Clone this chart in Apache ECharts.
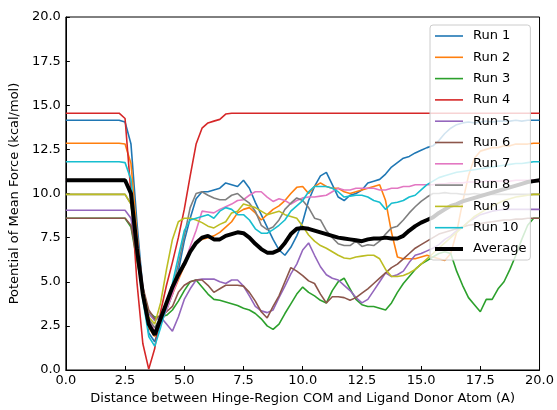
<!DOCTYPE html>
<html><head><meta charset="utf-8">
<script src="https://cdn.jsdelivr.net/npm/echarts@6/dist/echarts.min.js"></script>
<style>html,body{margin:0;padding:0;background:#fff}#c{width:557px;height:410px}</style>
</head><body><div id="c"></div>
<script>
const xs = [0,1,2,2.25,2.5,2.75,3,3.25,3.5,3.75,4,4.25,4.5,4.75,5,5.25,5.5,5.75,6,6.25,6.5,6.75,7,7.25,7.5,7.75,8,8.25,8.5,8.75,9,9.25,9.5,9.75,10,10.25,10.5,10.75,11,11.25,11.5,11.75,12,12.25,12.5,12.75,13,13.25,13.5,13.75,14,14.25,14.5,14.75,15,15.25,15.5,15.75,16,16.25,16.5,16.75,17,17.25,17.5,17.75,18,18.25,18.5,18.75,19,19.25,19.5,19.75,20];

const run1 = [14.15,14.15,14.15,14.15,
14.05,12.8,8.4,4.6,2.1,1.6,
2.6,3.4,4.3,5.6,
7.3,8.6,9.7,10.1,
10.1,10.2,10.3,10.6,
10.5,10.4,10.75,10.3,
9.5,8.8,8.1,7.4,
6.8,6.5,6.95,7.6,
8.4,9.6,10.4,11.0,
11.2,10.5,9.8,9.6,
9.9,10.0,10.2,10.6,
10.7,10.8,11.1,11.5,
11.75,12.0,12.1,12.3,
12.45,12.6,12.7,13.0,
13.4,13.7,13.9,14.0,
14.05,14.0,14.05,14.1,
14.05,14.1,14.1,14.1,
14.15,14.1,14.15,14.15,
14.15];

const run2 = [12.85,12.85,12.85,12.85,
12.8,11.7,7.8,4.5,2.4,1.9,
2.7,3.5,4.3,5.1,
5.9,6.7,7.2,7.4,
7.5,7.6,7.8,8.1,
8.4,8.9,9.1,9.2,
8.9,8.5,8.8,9.1,
9.3,9.6,10.0,10.35,
10.4,10.0,10.4,10.6,
10.4,10.3,10.3,10.1,
10.0,10.1,10.2,10.3,
10.4,10.5,9.6,7.8,
6.4,6.3,6.3,6.3,
6.4,6.5,6.4,6.3,
6.2,6.6,7.8,9.5,
11.0,12.0,12.4,12.5,
12.6,12.6,12.7,12.7,
12.8,12.8,12.8,12.85,
12.85];

const run3 = [8.6,8.6,8.6,8.6,
8.6,8.1,6.2,4.5,3.3,3.0,
3.0,3.1,3.4,3.9,
4.5,5.0,5.1,4.7,
4.3,4.0,3.95,3.85,
3.75,3.65,3.5,3.4,
3.2,2.9,2.5,2.3,
2.6,3.2,3.75,4.3,
4.7,4.4,4.2,3.95,
3.8,4.5,5.0,5.2,
4.6,4.0,3.7,3.6,
3.6,3.5,3.4,3.8,
4.4,4.9,5.3,5.7,
6.0,6.2,6.4,6.6,
6.7,6.6,5.6,4.8,
4.1,3.7,3.3,4.0,
4.0,4.6,5.0,5.7,
6.5,7.4,8.2,8.6,
8.6];

const run4 = [14.55,14.55,14.55,14.55,
14.25,10.0,5.0,1.5,0.05,1.2,
3.3,4.8,6.1,7.5,
9.1,11.0,12.8,13.7,
14.0,14.1,14.2,14.5,
14.55,14.55,14.55,14.55,
14.55,14.55,14.55,14.55,
14.55,14.55,14.55,14.55,
14.55,14.55,14.55,14.55,
14.55,14.55,14.55,14.55,
14.55,14.55,14.55,14.55,
14.55,14.55,14.55,14.55,
14.55,14.55,14.55,14.55,
14.55,14.55,14.55,14.55,
14.55,14.55,14.55,14.55,
14.55,14.55,14.55,14.55,
14.55,14.55,14.55,14.55,
14.55,14.55,14.55,14.55,
14.55];

const run5 = [9.05,9.05,9.05,9.05,
9.05,8.6,6.6,4.6,3.2,2.8,
3.0,2.6,2.2,3.0,
4.0,4.6,5.1,5.15,
5.15,5.15,5.0,4.9,
5.1,5.1,4.75,4.2,
3.6,3.35,3.25,3.4,
4.1,4.75,5.45,6.0,
6.8,7.2,6.5,5.85,
5.4,5.2,5.1,4.8,
4.5,4.1,3.8,4.0,
4.5,5.0,5.5,5.3,
5.4,5.6,6.1,6.5,
6.6,6.75,6.9,7.1,
7.4,7.6,7.9,8.1,
8.4,8.6,8.8,8.9,
9.0,9.05,9.1,9.1,
9.1,9.1,9.1,9.1,
9.1];

const run6 = [8.6,8.6,8.6,8.6,
8.6,8.2,6.4,4.7,3.4,2.9,
3.1,3.3,3.6,4.4,
4.8,5.0,5.1,5.1,
4.8,4.4,4.6,4.8,
4.8,4.8,4.75,4.4,
3.9,3.3,2.95,3.6,
4.2,5.0,5.8,5.6,
5.35,5.05,4.9,4.3,
3.8,4.15,4.15,4.1,
3.95,4.1,4.35,4.6,
4.9,5.2,5.5,5.8,
6.0,6.3,6.6,6.9,
7.1,7.3,7.5,7.7,
7.8,7.9,8.0,8.1,
8.2,8.25,8.3,8.35,
8.4,8.45,8.5,8.5,
8.55,8.55,8.6,8.6,
8.6];

const run7 = [10.75,10.75,10.75,10.75,
10.7,10.0,7.4,4.7,2.9,2.2,
2.6,3.4,4.3,5.2,
6.0,7.0,7.9,9.0,
8.95,8.9,9.1,9.25,
9.4,9.6,9.65,9.9,
10.1,10.1,9.8,9.55,
9.7,9.6,9.4,9.6,
9.75,9.8,9.8,9.85,
9.9,10.1,10.3,10.2,
10.2,10.3,10.3,10.3,
10.3,10.2,10.2,10.3,
10.3,10.4,10.4,10.5,
10.5,10.5,10.5,10.55,
10.55,10.6,10.6,10.6,
10.65,10.65,10.65,10.7,
10.7,10.7,10.7,10.7,
10.75,10.75,10.75,10.75,
10.75];

const run8 = [9.95,9.95,9.95,9.95,
9.95,9.4,6.9,4.5,2.9,2.4,
3.0,3.8,4.6,6.0,
7.6,9.2,10.0,10.1,
9.9,9.75,9.65,9.65,
9.9,10.0,9.7,9.45,
9.0,8.2,7.95,8.1,
8.5,9.1,9.45,9.75,
9.6,9.2,8.6,8.5,
7.9,7.5,7.15,7.05,
7.05,7.3,7.0,7.1,
7.05,7.3,7.7,8.05,
8.15,8.5,8.9,9.25,
9.55,9.8,10.0,10.0,
10.05,10.0,10.0,9.95,
9.95,10.0,9.95,9.95,
9.95,9.95,9.95,9.95,
9.95,9.95,9.95,9.95,
9.95];

const run9 = [9.95,9.95,9.95,9.95,
9.95,9.4,7.0,4.6,3.0,2.6,
3.8,5.7,7.4,8.4,
8.6,8.6,8.5,8.35,
8.15,8.05,8.25,8.4,
8.9,9.0,9.4,9.3,
9.2,9.0,8.8,8.9,
9.0,8.8,8.7,8.6,
8.15,7.65,7.3,7.05,
6.9,6.7,6.5,6.35,
6.3,6.4,6.45,6.5,
6.5,6.3,5.7,5.3,
5.3,5.35,5.5,5.7,
6.0,6.3,6.6,6.9,
7.2,7.5,7.8,8.1,
8.4,8.7,8.9,9.1,
9.3,9.45,9.6,9.7,
9.8,9.85,9.9,9.95,
9.95];

const run10 = [11.8,11.8,11.8,11.8,
11.75,10.8,7.2,4.0,1.9,1.35,
2.4,3.6,4.9,6.4,
7.9,8.5,8.6,8.7,
8.8,8.6,9.0,9.2,
9.1,8.8,8.8,8.5,
8.0,7.75,7.75,7.95,
8.2,8.5,9.0,9.3,
9.6,10.1,10.4,10.4,
10.4,10.3,10.1,9.8,
9.85,9.9,9.9,9.8,
9.6,9.5,9.1,9.45,
9.5,9.6,9.8,9.9,
10.2,10.5,10.7,10.9,
11.0,11.1,11.2,11.25,
11.3,11.35,11.4,11.45,
11.5,11.55,11.6,11.65,
11.7,11.7,11.75,11.8,
11.8];

const average = [10.75,10.75,10.75,10.75,
10.75,10.0,6.9,4.3,2.6,2.0,
2.9,3.8,4.7,5.4,
6.0,6.7,7.2,7.5,
7.6,7.4,7.4,7.6,
7.7,7.8,7.75,7.5,
7.15,6.85,6.65,6.65,
6.8,7.2,7.7,8.0,
8.05,8.0,7.9,7.8,
7.7,7.6,7.5,7.45,
7.4,7.35,7.3,7.4,
7.45,7.45,7.5,7.45,
7.45,7.6,7.9,8.15,
8.35,8.5,8.65,8.9,
9.1,9.3,9.4,9.55,
9.65,9.75,9.85,9.95,
10.05,10.15,10.25,10.35,
10.45,10.55,10.65,10.7,
10.75];

const names = ['Run 1','Run 2','Run 3','Run 4','Run 5','Run 6','Run 7','Run 8','Run 9','Run 10','Average'];
const colors = ['#1f77b4','#ff7f0e','#2ca02c','#d62728','#9467bd','#8c564b','#e377c2','#7f7f7f','#bcbd22','#17becf','#000000'];
const allData = [run1,run2,run3,run4,run5,run6,run7,run8,run9,run10,average];
const xTicks = ['0.0','2.5','5.0','7.5','10.0','12.5','15.0','17.5','20.0'];
const yTicks = ['0.0','2.5','5.0','7.5','10.0','12.5','15.0','17.5','20.0'];

const FONT = 'DejaVu Sans';
const thinIcon = 'path://M0,0M0,6.2L28,6.2L28,7.8L0,7.8ZM28,14';
const thickIcon = 'path://M0,0M0,5L28,5L28,9L0,9ZM28,14';

const chart = echarts.init(document.getElementById('c'), null, {renderer:'canvas'});
const series = allData.map((arr, i) => ({
  name: names[i],
  type: 'line',
  data: xs.map((x, j) => [x, arr[j]]),
  symbol: 'none',
  showSymbol: false,
  smooth: false,
  z: i === 10 ? 5 : 2,
  color: colors[i],
  lineStyle: {width: i === 10 ? 4 : 1.6, color: colors[i]}
}));

chart.setOption({
  animation: false,
  backgroundColor: '#fff',
  grid: {left: 63, right: 17, top: 17, bottom: 36, show: true, borderColor: '#000', borderWidth: 1},
  xAxis: {
    type: 'value', min: 0, max: 20, interval: 2.5,
    axisLine: {show: true, onZero: false, lineStyle: {color: '#000', width: 1}},
    axisTick: {show: true, inside: true, length: 4, lineStyle: {color: '#000'}},
    splitLine: {show: false},
    axisLabel: {color: '#000', fontSize: 13, fontFamily: FONT, margin: 4,
      formatter: v => xTicks[Math.round(v / 2.5)]},
    name: 'Distance between Hinge-Region COM and Ligand Donor Atom (A)',
    nameLocation: 'middle', nameGap: 22,
    nameTextStyle: {color: '#000', fontSize: 13, fontFamily: FONT}
  },
  yAxis: {
    type: 'value', min: 0, max: 20, interval: 2.5,
    axisLine: {show: true, onZero: false, lineStyle: {color: '#000', width: 1}},
    axisTick: {show: true, inside: true, length: 4, lineStyle: {color: '#000'}},
    splitLine: {show: false},
    axisLabel: {color: '#000', fontSize: 13, fontFamily: FONT, margin: 5,
      formatter: v => yTicks[Math.round(v / 2.5)]},
    name: 'Potential of Mean Force (kcal/mol)',
    nameLocation: 'middle', nameGap: 35, nameRotate: 90,
    nameTextStyle: {color: '#000', fontSize: 13, fontFamily: FONT}
  },
  legend: {
    data: names.map((n, i) => ({name: n, icon: i === 10 ? thickIcon : thinIcon})),
    orient: 'vertical',
    left: 430, top: 25,
    itemWidth: 28, itemHeight: 14, itemGap: 7.3,
    padding: [4, 4, 4, 5],
    backgroundColor: 'rgba(255,255,255,0.8)',
    borderColor: '#cccccc', borderWidth: 1, borderRadius: 3,
    textStyle: {color: '#000', fontSize: 13, fontFamily: FONT, padding: [0, 0, 0, 5]},
    z: 10
  },
  series: series
});
</script>
</body></html>
